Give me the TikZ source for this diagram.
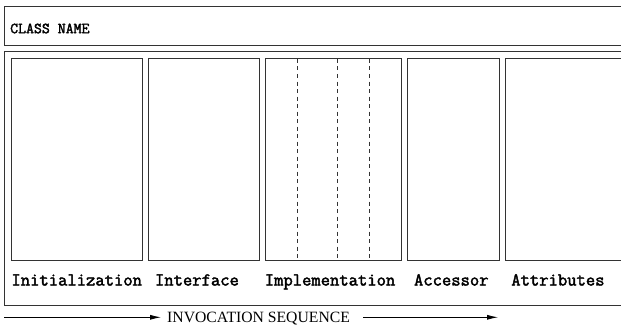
\documentclass[tikz,border=0pt]{standalone}
\usepackage{fontspec}
\setmainfont{Liberation Serif}
\newfontfamily\tybold{Latin Modern Mono}[FakeBold=2.2]
\usetikzlibrary{arrows.meta}
\tikzset{
  frame/.style={draw=black!80, line width=0.9pt},
  part/.style={draw=black!80, line width=0.9pt},
  divider/.style={draw=black!80, line width=0.6pt, dash pattern=on 4pt off 3.5pt},
  lbl/.style={anchor=base west, inner sep=0pt, font=\fontsize{18.1}{19}\selectfont\tybold},
  title/.style={anchor=west, inner sep=0pt, font=\fontsize{15.4}{17}\selectfont\tybold},
  seq/.style={inner sep=0pt, font=\fontsize{15.7}{17}\selectfont\rmfamily},
  flow/.style={draw=black, line width=0.8pt, -{Latex[length=11pt,width=5pt]}}
}
\begin{document}
\begin{tikzpicture}[x=1pt,y=-1pt]
\useasboundingbox (0,0) rectangle (621,329);
\clip (0,0) rectangle (621,329);
% class name box
\draw[frame] (4.5,6.5) rectangle (640,45.5);
\node[title] (cname) at (10,28.5) {CLASS NAME};
% outer box
\draw[frame] (4.5,51.5) rectangle (640,305.5);
% inner parts
\draw[part] (11.5,58.5) rectangle (142.5,260);
\draw[part] (148.5,58.5) rectangle (259,260);
\draw[part] (265.5,58.5) rectangle (401.5,260);
\draw[part] (407.5,58.5) rectangle (499,260);
\draw[part] (505.5,58.5) rectangle (640,260);
% dashed dividers
\draw[divider] (297.5,59) -- (297.5,260);
\draw[divider] (337,59) -- (337,260);
\draw[divider] (369,59) -- (369,260);
% labels
\node[lbl] (init) at (11.3,285.5) {Initialization};
\node[lbl] (intf) at (154.8,285.5) {Interface};
\node[lbl] (impl) at (264.6,285.5) {Implementation};
\node[lbl] (acc) at (413.8,285.5) {Accessor};
\node[lbl] (attr) at (511.1,285.5) {Attributes};
% invocation sequence
\node[seq, anchor=west] (inv) at (167,318.5) {INVOCATION SEQUENCE};
\coordinate (s) at (4,317.3);
\coordinate (e) at (498,317.3);
\draw[flow] (s) -- ([xshift=-6pt]inv.west |- s);
\draw[flow] ([xshift=13pt]inv.east |- e) -- (e);
\end{tikzpicture}
\end{document}
